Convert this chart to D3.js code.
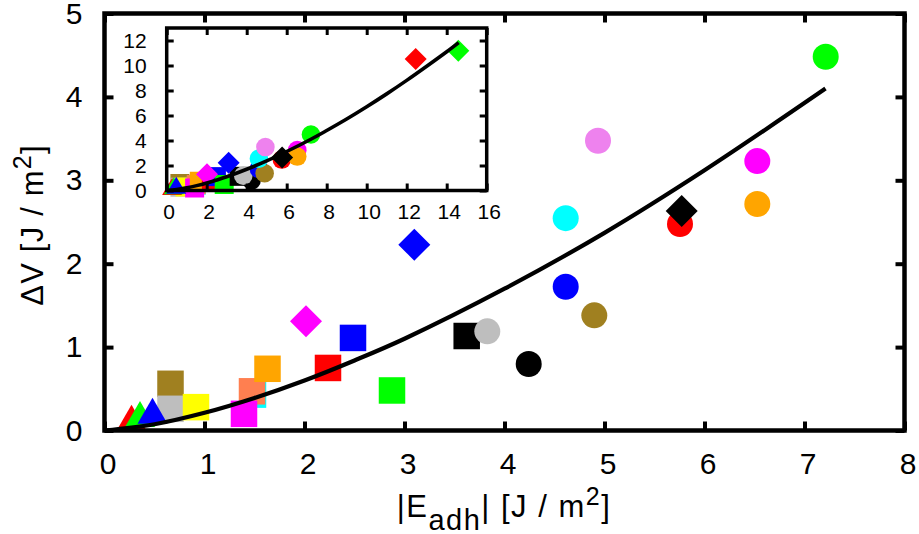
<!DOCTYPE html>
<html><head><meta charset="utf-8">
<script src="https://cdn.jsdelivr.net/npm/d3@7"></script>
<style>
body{margin:0;background:#fff}
text{font-family:"Liberation Sans",Arial,Helvetica,sans-serif;fill:#000}
</style>
</head><body>
<svg id="c" width="919" height="534"></svg>
<script>
// ---------- data ----------
const xTicksMain = [0,1,2,3,4,5,6,7,8];
const yTicksMain = [0,1,2,3,4,5];
const xTicksInset = [0,2,4,6,8,10,12,14,16];
const yTicksInset = [0,2,4,6,8,10,12];

// [ |E_adh| , ΔV , colour key ]
const squares = [
  [0.66, 0.56, "brown"],
  [0.66, 0.26, "gray"],
  [0.915, 0.28, "yellow"],
  [1.485, 0.43, "cyan"],
  [1.475, 0.47, "coral"],
  [1.395, 0.20, "magenta"],
  [1.63, 0.74, "orange"],
  [2.235, 0.75, "red"],
  [2.485, 1.11, "blue"],
  [2.875, 0.48, "green"],
  [3.622, 1.133, "black"]
];
const triangles = [
  [0.27, 0.10, "red"],
  [0.355, 0.146, "green"],
  [0.48, 0.186, "blue"]
];
const circles = [
  [4.242, 0.797, "black"],
  [3.828, 1.189, "gray"],
  [4.612, 1.724, "blue"],
  [4.898, 1.381, "brown"],
  [4.612, 2.546, "cyan"],
  [4.935, 3.475, "violet"],
  [5.755, 2.476, "red"],
  [6.528, 3.23, "magenta"],
  [6.528, 2.716, "orange"],
  [7.212, 4.482, "green"]
];
const diamonds = [
  [2.015, 1.31, "magenta"],
  [3.098, 2.228, "blue"],
  [12.45, 10.52, "red"],
  [14.58, 11.18, "green"],
  [5.772, 2.632, "black"]
];
// fitted curve, points
const fitCurve = [
  [0,0],[0.5,0.075],[1,0.212],[1.5,0.39],[2,0.60],[2.5,0.84],[3,1.10],
  [4,1.70],[5,2.37],[6,3.12],[7.21,4.10],[8,4.80],[9,5.72],[10,6.70],
  [11,7.73],[12,8.81],[13,9.94],[14,11.1],[14.6,11.83]
];
const mainCurveEnd = 7.21;

const colorMap = {
  red:"#ff0000", green:"#00ff00", blue:"#0000ff", magenta:"#ff00ff",
  cyan:"#00ffff", yellow:"#ffff00", black:"#000000", orange:"#ffa500",
  gray:"#bebebe", brown:"#a08020", coral:"#ff7f50", violet:"#ee82ee"
};

// ---------- drawing ----------
const svg = d3.select("#c");

function panel(cfg){
  const g = svg.append("g");
  const x = d3.scaleLinear().domain(cfg.xd).range(cfg.xr);
  const y = d3.scaleLinear().domain(cfg.yd).range(cfg.yr);
  if (cfg.fillBg) {
    g.append("rect").attr("x",cfg.xr[0]).attr("y",cfg.yr[1])
      .attr("width",cfg.xr[1]-cfg.xr[0]).attr("height",cfg.yr[0]-cfg.yr[1])
      .attr("fill","#fff");
  }
  const inX = d => d[0]>=cfg.xd[0] && d[0]<=cfg.xd[1] && d[1]>=cfg.yd[0] && d[1]<=cfg.yd[1];
  const col = d => colorMap[d[2]];
  const m = cfg.mk;
  // squares
  g.selectAll(null).data(squares.filter(inX)).join("rect")
    .attr("x",d=>x(d[0])-m.sq/2).attr("y",d=>y(d[1])-m.sq/2)
    .attr("width",m.sq).attr("height",m.sq).attr("fill",col);
  // triangles
  g.selectAll(null).data(triangles.filter(inX)).join("path")
    .attr("d",d=>{const cx=x(d[0]),cy=y(d[1]);
      return `M${cx},${cy-2*m.th/3}L${cx+m.tw/2},${cy+m.th/3}L${cx-m.tw/2},${cy+m.th/3}Z`;})
    .attr("fill",col);
  // circles
  g.selectAll(null).data(circles.filter(inX)).join("circle")
    .attr("cx",d=>x(d[0])).attr("cy",d=>y(d[1])).attr("r",m.r).attr("fill",col);
  // diamonds
  g.selectAll(null).data(diamonds.filter(inX)).join("path")
    .attr("d",d=>{const cx=x(d[0]),cy=y(d[1]),h=m.dh;
      return `M${cx},${cy-h}L${cx+h},${cy}L${cx},${cy+h}L${cx-h},${cy}Z`;})
    .attr("fill",col);
  // curve
  const line = d3.line().x(d=>x(d[0])).y(d=>y(d[1])).curve(d3.curveCatmullRom);
  g.append("path").datum(fitCurve.filter(d=>d[0]<=cfg.curveEnd))
    .attr("d",line).attr("fill","none").attr("stroke","#000")
    .attr("stroke-width",cfg.lw);

  // axes (inward ticks)
  const fs = cfg.fs;
  const ax = (gen, tr, labels) => {
    const a = g.append("g").attr("transform",tr).call(gen);
    a.select(".domain").remove();
    a.selectAll(".tick line").attr("stroke","#000").attr("stroke-width",cfg.tw);
    if (!labels) a.selectAll(".tick text").remove();
    else a.selectAll(".tick text").attr("font-size",fs).attr("fill","#000");
    return a;
  };
  const bx = ax(d3.axisBottom(x).tickValues(cfg.xt).tickFormat(d3.format("d"))
      .tickSize(-cfg.tl).tickPadding(cfg.xpad), `translate(0,${cfg.yr[0]})`, true);
  bx.selectAll(".tick text").attr("dx",cfg.xdx);
  ax(d3.axisTop(x).tickValues(cfg.xt).tickSize(-cfg.tl), `translate(0,${cfg.yr[1]})`, false);
  ax(d3.axisLeft(y).tickValues(cfg.yt).tickFormat(d3.format("d"))
      .tickSize(-cfg.tl).tickPadding(cfg.ypad), `translate(${cfg.xr[0]},0)`, true);
  ax(d3.axisRight(y).tickValues(cfg.yt).tickSize(-cfg.tl), `translate(${cfg.xr[1]},0)`, false);
  g.selectAll(".tick text").attr("font-family",null);
  // frame
  g.append("rect").attr("x",cfg.xr[0]).attr("y",cfg.yr[1])
    .attr("width",cfg.xr[1]-cfg.xr[0]).attr("height",cfg.yr[0]-cfg.yr[1])
    .attr("fill","none").attr("stroke","#000").attr("stroke-width",cfg.bw);
  return {x,y};
}

// main plot
panel({
  xd:[0,8], xr:[104.5,904.5], yd:[0,5], yr:[430.5,13.5],
  xt:xTicksMain, yt:yTicksMain, fs:30, tl:9, tw:4, bw:4.5, lw:4.2,
  xpad:22, ypad:22, xdx:3, curveEnd:mainCurveEnd,
  mk:{sq:26.5, tw:30, th:26, r:13, dh:16}
});
// inset
panel({
  xd:[0,16], xr:[166.7,486.7], yd:[0,13], yr:[190.5,28],
  xt:xTicksInset, yt:yTicksInset, fs:21, tl:7, tw:3, bw:3.5, lw:3.6,
  xpad:14, ypad:20, xdx:2, curveEnd:99, fillBg:true,
  mk:{sq:19, tw:20, th:17, r:9.3, dh:11}
});

// axis titles
const xl = svg.append("text").attr("x",504).attr("y",517)
  .attr("text-anchor","middle").attr("font-size",31).attr("letter-spacing",1.5);
xl.append("tspan").text("|E");
xl.append("tspan").attr("dy",13).attr("font-size",29).text("adh");
xl.append("tspan").attr("dy",-13).text("| [J / m");
xl.append("tspan").attr("dy",-12).attr("font-size",25).text("2");
xl.append("tspan").attr("dy",12).text("]");

const yl = svg.append("text").attr("transform","translate(43,225) rotate(-90)")
  .attr("text-anchor","middle").attr("font-size",31).attr("letter-spacing",1.2);
yl.append("tspan").text("ΔV [J / m");
yl.append("tspan").attr("dy",-12).attr("font-size",25).text("2");
yl.append("tspan").attr("dy",12).text("]");
</script>
</body></html>
